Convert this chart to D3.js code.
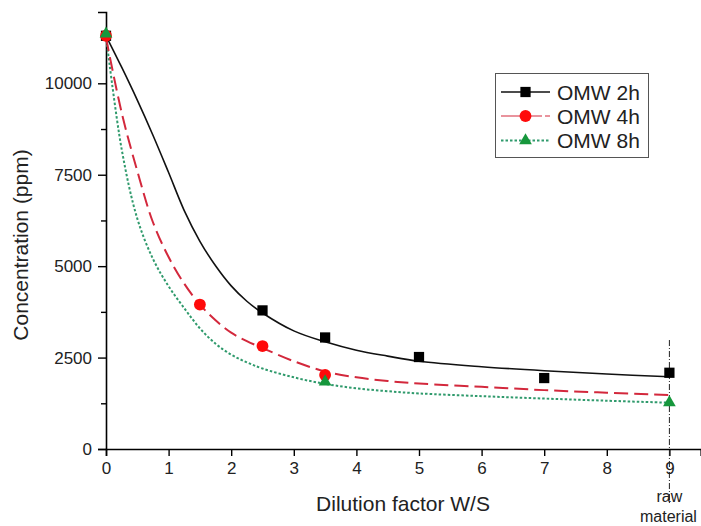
<!DOCTYPE html>
<html>
<head>
<meta charset="utf-8">
<script src="https://cdn.jsdelivr.net/npm/d3@7"></script>
<style>
  html, body { margin: 0; padding: 0; background: #fff; }
  svg { display: block; font-family: Arial, "Liberation Sans", sans-serif; }
</style>
</head>
<body>
<svg id="chart" width="701" height="526"></svg>
<script>
// ---- data ----
const seriesNames = ["OMW 2h", "OMW 4h", "OMW 8h"];
const xTicks = [0, 1, 2, 3, 4, 5, 6, 7, 8, 9];
const yTicks = [0, 2500, 5000, 7500, 10000];
const yMinorTicks = [1250, 3750, 6250, 8750, 11250];

// measured points
const x2h = [0, 2.5, 3.5, 5, 7, 9];
const y2h = [11300, 3790, 3050, 2515, 1940, 2085];
const x4h = [0, 1.5, 2.5, 3.5];
const y4h = [11300, 3950, 2815, 2025];
const x8h = [0, 3.5, 9];
const y8h = [11350, 1840, 1270];

// fitted curves
const fitX  = [0, 0.25, 0.5, 0.75, 1, 1.25, 1.5, 1.75, 2, 2.25, 2.5, 3, 3.5, 4, 4.5, 5, 6, 7, 8, 9];
const fit2h = [11300, 10440, 9540, 8580, 7560, 6520, 5680, 5010, 4460, 4040, 3720, 3230, 2930, 2700, 2540, 2400, 2250, 2140, 2050, 1975];
const fit4h = [11250, 9200, 7600, 6200, 5250, 4520, 3950, 3520, 3180, 2950, 2760, 2400, 2120, 1960, 1860, 1790, 1700, 1610, 1540, 1475];
const fit8h = [11300, 8200, 6300, 5200, 4450, 3850, 3300, 2880, 2580, 2370, 2200, 1960, 1780, 1660, 1580, 1520, 1445, 1380, 1320, 1266];

const rawLabel = ["raw", "material"];

// ---- layout ----
const svg = d3.select("#chart");
const x = d3.scaleLinear().domain([0, 9.5]).range([106, 700.7]);
const y = d3.scaleLinear().domain([0, 11950]).range([449, 12]);

const colors = { black: "#111", redLine: "#d3283c", redMark: "#ff0a0a", greenLine: "#2f9a6c", greenMark: "#16973c" };

// axes
const xAxis = d3.axisBottom(x).tickValues(xTicks).tickSize(7).tickPadding(6).tickFormat(d3.format("d"));
const gx = svg.append("g").attr("transform", `translate(0,${y(0)})`).call(xAxis);
gx.select(".domain").attr("stroke", "#000").attr("stroke-width", 1.6);
gx.selectAll(".tick line").attr("stroke", "#000").attr("stroke-width", 1.4);
gx.selectAll(".tick text").attr("font-size", 17).attr("fill", "#222").attr("font-family", "Arial, 'Liberation Sans', sans-serif");

const yAxis = d3.axisLeft(y).tickValues(yTicks).tickSize(8).tickPadding(6).tickFormat(d3.format("d"));
const gy = svg.append("g").attr("transform", `translate(${x(0)},0)`).call(yAxis);
gy.select(".domain").attr("stroke", "#000").attr("stroke-width", 1.6);
gy.selectAll(".tick line").attr("stroke", "#000").attr("stroke-width", 1.4);
gy.selectAll(".tick text").attr("font-size", 17).attr("fill", "#222").attr("font-family", "Arial, 'Liberation Sans', sans-serif");

const yMinor = d3.axisLeft(y).tickValues(yMinorTicks).tickSize(5).tickFormat("");
const gym = svg.append("g").attr("transform", `translate(${x(0)},0)`).call(yMinor);
gym.select(".domain").remove();
gym.selectAll(".tick line").attr("stroke", "#000").attr("stroke-width", 1.4);

// axis titles
svg.append("text")
  .attr("x", 403).attr("y", 511)
  .attr("text-anchor", "middle")
  .attr("font-size", 21).attr("fill", "#222")
  .text("Dilution factor W/S");
svg.append("text")
  .attr("transform", `translate(28,245) rotate(-90)`)
  .attr("text-anchor", "middle")
  .attr("font-size", 21).attr("fill", "#222")
  .text("Concentration (ppm)");

// raw material marker line
svg.append("line")
  .attr("x1", x(9)).attr("x2", x(9))
  .attr("y1", y(2980)).attr("y2", 504)
  .attr("stroke", "#222").attr("stroke-width", 1)
  .attr("stroke-dasharray", "6,2,1,2");
svg.append("text").attr("x", x(9)).attr("y", 502).attr("text-anchor", "middle")
  .attr("font-size", 16).attr("fill", "#222").text(rawLabel[0]);
svg.append("text").attr("x", 640).attr("y", 521.5).attr("text-anchor", "start")
  .attr("font-size", 16).attr("fill", "#222").text(rawLabel[1]);

// curves
const line = d3.line().x(d => x(d[0])).y(d => y(d[1])).curve(d3.curveCatmullRom.alpha(0.5));
const zip = (a, b) => a.map((v, i) => [v, b[i]]);

svg.append("path").datum(zip(fitX, fit8h)).attr("d", line)
  .attr("fill", "none").attr("stroke", colors.greenLine).attr("stroke-width", 2)
  .attr("stroke-dasharray", "2.5,2");
svg.append("path").datum(zip(fitX, fit4h)).attr("d", line)
  .attr("fill", "none").attr("stroke", colors.redLine).attr("stroke-width", 2)
  .attr("stroke-dasharray", "14,6");
svg.append("path").datum(zip(fitX, fit2h)).attr("d", line)
  .attr("fill", "none").attr("stroke", colors.black).attr("stroke-width", 1.6);

// markers
const sq = d3.symbol().type(d3.symbolSquare).size(105);
const ci = d3.symbol().type(d3.symbolCircle).size(110);
const tr = d3.symbol().type(d3.symbolTriangle).size(70);

svg.append("g").selectAll("path").data(zip(x2h, y2h)).join("path")
  .attr("d", sq).attr("transform", d => `translate(${x(d[0])},${y(d[1])})`)
  .attr("fill", "#000");
svg.append("g").selectAll("path").data(zip(x4h, y4h)).join("path")
  .attr("d", ci).attr("transform", d => `translate(${x(d[0])},${y(d[1])})`)
  .attr("fill", colors.redMark);
svg.append("g").selectAll("path").data(zip(x8h, y8h)).join("path")
  .attr("d", tr).attr("transform", d => `translate(${x(d[0])},${y(d[1])})`)
  .attr("fill", colors.greenMark);

// legend
const lg = svg.append("g");
lg.append("rect").attr("x", 495.5).attr("y", 73.5).attr("width", 153).attr("height", 84)
  .attr("fill", "#fff").attr("stroke", "#555").attr("stroke-width", 1);
const legendRows = [
  { name: seriesNames[0], stroke: colors.black, dash: null, w: 1.6, sym: sq, fill: "#000" },
  { name: seriesNames[1], stroke: colors.redLine, dash: "19,3", w: 1.2, sym: ci, fill: colors.redMark },
  { name: seriesNames[2], stroke: colors.greenLine, dash: "2.5,2", w: 2, sym: tr, fill: colors.greenMark }
];
const rowY = [92, 116, 140.5];
legendRows.forEach((r, i) => {
  const g = lg.append("g").attr("transform", `translate(0,${rowY[i]})`);
  g.append("line").attr("x1", 501).attr("x2", 550).attr("y1", 0).attr("y2", 0)
    .attr("stroke", r.stroke).attr("stroke-width", r.w)
    .attr("stroke-dasharray", r.dash);
  g.append("path").attr("d", r.sym).attr("transform", "translate(525.5,0)").attr("fill", r.fill);
  g.append("text").attr("x", 557).attr("y", 7.5).attr("font-size", 21).attr("fill", "#222").text(r.name);
});
</script>
</body>
</html>
